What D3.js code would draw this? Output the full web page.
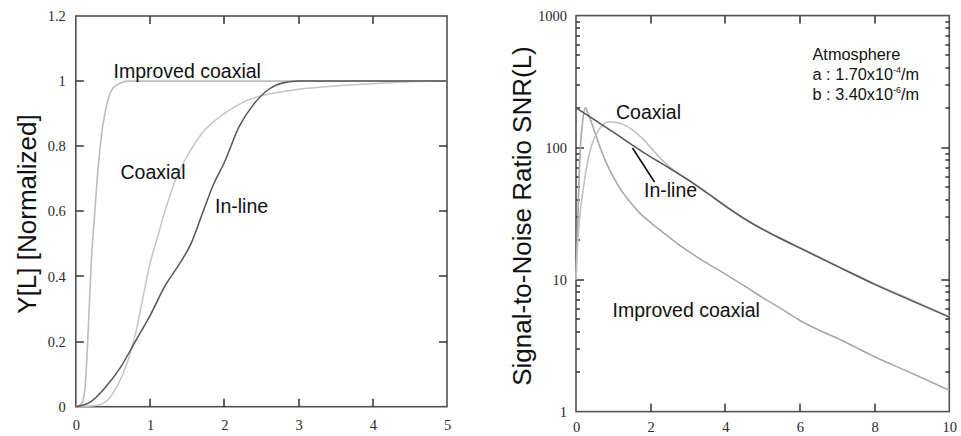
<!DOCTYPE html>
<html><head><meta charset="utf-8">
<script src="https://cdn.jsdelivr.net/npm/d3@7"></script>
<style>
html,body{margin:0;padding:0;background:#fff;}
svg{display:block;}
</style></head>
<body>
<svg id="chart" width="961" height="436"></svg>
<script>
// ---------- Left panel data: Y[L] normalized ----------
const leftXTicks = [0, 1, 2, 3, 4, 5];
const leftYTicks = [0, 0.2, 0.4, 0.6, 0.8, 1, 1.2];
const leftYTickLabels = ["0", "0.2", "0.4", "0.6", "0.8", "1", "1.2"];

const leftImprovedX = [0, 0.08, 0.12, 0.15, 0.18, 0.21, 0.25, 0.3, 0.35, 0.4, 0.45, 0.5, 0.6, 0.7, 5];
const leftImprovedY = [0, 0.01, 0.05, 0.15, 0.3, 0.45, 0.58, 0.73, 0.84, 0.91, 0.955, 0.978, 0.994, 1.0, 1.0];

const leftCoaxialX = [0, 0.25, 0.4, 0.55, 0.7, 0.8, 0.9, 1.0, 1.1, 1.2, 1.35, 1.5, 1.7, 2.0, 2.3, 2.6, 3.0, 3.5, 4.0, 4.5, 5];
const leftCoaxialY = [0, 0.003, 0.015, 0.06, 0.14, 0.22, 0.33, 0.44, 0.52, 0.6, 0.7, 0.77, 0.84, 0.9, 0.94, 0.96, 0.975, 0.985, 0.992, 0.998, 1.0];

const leftInlineX = [0, 0.2, 0.4, 0.6, 0.8, 1.0, 1.2, 1.4, 1.55, 1.7, 1.85, 2.0, 2.2, 2.4, 2.6, 2.8, 3.0, 5];
const leftInlineY = [0, 0.015, 0.06, 0.12, 0.2, 0.28, 0.37, 0.44, 0.5, 0.59, 0.68, 0.75, 0.86, 0.93, 0.975, 0.995, 1.0, 1.0];

// ---------- Right panel data: SNR(L), log scale ----------
const rightXTicks = [0, 2, 4, 6, 8, 10];
const rightYMajor = [1, 10, 100, 1000];

const rightImprovedX = [0, 0.05, 0.1, 0.18, 0.25, 0.33, 0.45, 0.62, 0.8, 1.0, 1.2, 1.44, 1.7, 2.0, 2.4, 2.8, 3.3, 4.0, 4.5, 5, 5.5, 6, 6.5, 7, 8, 9, 10];
const rightImprovedY = [10, 30, 80, 160, 200, 180, 145, 105, 78, 60, 48, 39, 32, 27, 22, 18, 14.5, 11, 9, 7.3, 6, 4.9, 4.15, 3.6, 2.6, 1.95, 1.45];

const rightCoaxialX = [0, 0.05, 0.1, 0.2, 0.3, 0.4, 0.6, 0.9, 1.2, 1.5, 1.8, 2.1, 2.4, 2.7, 3, 3.5, 4, 4.5, 5, 5.5, 6, 7, 8, 9, 10];
const rightCoaxialY = [10, 20, 30, 50, 75, 100, 135, 157, 152, 137, 116, 93, 76, 65, 57.5, 46, 36.4, 29.3, 24.2, 20.5, 17.5, 12.7, 9.3, 7.0, 5.25];

const rightInlineX = [0, 0.5, 1, 1.5, 2, 2.5, 3, 3.5, 4, 4.5, 5, 5.5, 6, 7, 8, 9, 10];
const rightInlineY = [200, 162, 131, 105, 85, 70, 57, 45.5, 36, 29, 24, 20.3, 17.3, 12.6, 9.2, 6.9, 5.2];

// ---------- drawing ----------
const svg = d3.select("#chart");
const frameColor = "#505050";
const tickColor = "#333";
const tickFont = 14.5;
const serif = "'Liberation Serif','Times New Roman',serif";
const labelFont = "'Liberation Sans', Arial, Helvetica, sans-serif";

function zip(xs, ys){ return xs.map((x,i)=>[x, ys[i]]); }

const lx = d3.scaleLinear().domain([0,5]).range([75.8, 447]);
const ly = d3.scaleLinear().domain([0,1.2]).range([406.7, 16]);
const rx = d3.scaleLinear().domain([0,10]).range([576, 949.3]);
const ry = d3.scaleLog().domain([1,1000]).range([411.6, 15.6]);

function styleAxis(a){
  a.select(".domain").remove();
  a.selectAll(".tick line").remove();
  a.selectAll(".tick text").attr("font-size",tickFont).attr("font-family",serif).attr("fill","#2a2a2a");
  return a;
}
function frame(g, x, y, w, h){
  g.append("rect").attr("x",x).attr("y",y).attr("width",w).attr("height",h)
    .attr("fill","none").attr("stroke",frameColor).attr("stroke-width",1.6);
}
// inward ticks as thin filled rectangles, positioned by the scales
function tickRect(g, x, y, w, h){
  g.append("rect").attr("x",x).attr("y",y).attr("width",w).attr("height",h).attr("fill",tickColor);
}
function xTicksInward(g, xs, ys, vals, len){
  const r = ys.range(), y0 = r[0], y1 = r[1];
  vals.forEach(v=>{
    const x = Math.round(xs(v));
    tickRect(g, x-0.75, y0-len, 1.5, len);
    tickRect(g, x-0.75, y1, 1.5, len);
  });
}
function yTicksInward(g, xs, ys, vals, len){
  const r = xs.range(), x0 = r[0], x1 = r[1];
  vals.forEach(v=>{
    const y = Math.round(ys(v));
    tickRect(g, x0, y-0.75, len, 1.5);
    tickRect(g, x1-len, y-0.75, len, 1.5);
  });
}

// ----- Left panel -----
const gL = svg.append("g");
styleAxis(gL.append("g").attr("transform",`translate(0,${ly(0)})`)
  .call(d3.axisBottom(lx).tickValues(leftXTicks).tickFormat(d3.format("d")).tickSize(0).tickPadding(13)));
styleAxis(gL.append("g").attr("transform",`translate(${lx(0)},0)`)
  .call(d3.axisLeft(ly).tickValues(leftYTicks).tickFormat((d,i)=>leftYTickLabels[i]).tickSize(0).tickPadding(10)));
frame(gL, lx(0), ly(1.2), lx(5)-lx(0), ly(0)-ly(1.2));
const gLt = gL.append("g");
xTicksInward(gLt, lx, ly, leftXTicks.slice(1,-1), 8);
yTicksInward(gLt, lx, ly, leftYTicks.slice(1,-1), 8);

const lineL = d3.line().x(d=>lx(d[0])).y(d=>ly(d[1])).curve(d3.curveMonotoneX);
gL.append("path").datum(zip(leftImprovedX,leftImprovedY)).attr("d",lineL)
  .attr("fill","none").attr("stroke","#bdbdbd").attr("stroke-width",1.6);
gL.append("path").datum(zip(leftCoaxialX,leftCoaxialY)).attr("d",lineL)
  .attr("fill","none").attr("stroke","#c4c4c4").attr("stroke-width",1.5);
gL.append("path").datum(zip(leftInlineX,leftInlineY)).attr("d",lineL)
  .attr("fill","none").attr("stroke","#555").attr("stroke-width",1.5);

function label(g, x, y, t, size){
  return g.append("text").attr("x",x).attr("y",y).text(t)
    .attr("font-family",labelFont).attr("font-size",size||19.5).attr("fill","#111");
}
label(gL, 113.5, 77.5, "Improved coaxial");
label(gL, 120.5, 179, "Coaxial");
label(gL, 215, 212.5, "In-line");

gL.append("text").attr("transform","translate(36,214) rotate(-90)")
  .attr("text-anchor","middle").attr("font-family",labelFont).attr("font-size",26).attr("fill","#111")
  .text("Y[L] [Normalized]");

// ----- Right panel -----
const gR = svg.append("g");
const minorVals = [];
for (let e=0; e<3; e++){ for (let k=2;k<=9;k++) minorVals.push(k*Math.pow(10,e)); }

styleAxis(gR.append("g").attr("transform",`translate(0,${ry(1)})`)
  .call(d3.axisBottom(rx).tickValues(rightXTicks).tickFormat(d3.format("d")).tickSize(0).tickPadding(10.5)));
styleAxis(gR.append("g").attr("transform",`translate(${rx(0)},0)`)
  .call(d3.axisLeft(ry).tickValues(rightYMajor).tickFormat(d3.format("d")).tickSize(0).tickPadding(9)));
frame(gR, rx(0), ry(1000), rx(10)-rx(0), ry(1)-ry(1000));
const gRt = gR.append("g");
xTicksInward(gRt, rx, ry, rightXTicks.slice(1,-1), 8);
yTicksInward(gRt, rx, ry, rightYMajor.slice(1,-1), 8);
yTicksInward(gRt, rx, ry, minorVals, 4);

const lineR = d3.line().x(d=>rx(d[0])).y(d=>ry(d[1])).curve(d3.curveMonotoneX);
gR.append("path").datum(zip(rightImprovedX,rightImprovedY)).attr("d",lineR)
  .attr("fill","none").attr("stroke","#a8a8a8").attr("stroke-width",1.6);
gR.append("path").datum(zip(rightCoaxialX,rightCoaxialY)).attr("d",lineR)
  .attr("fill","none").attr("stroke","#c0c0c0").attr("stroke-width",1.6);
gR.append("path").datum(zip(rightInlineX,rightInlineY)).attr("d",lineR)
  .attr("fill","none").attr("stroke","#555").attr("stroke-width",1.5);

label(gR, 616, 118.5, "Coaxial");
label(gR, 644, 197, "In-line");
label(gR, 612.5, 317, "Improved coaxial");
gR.append("line").attr("x1",632.5).attr("y1",148).attr("x2",654.5).attr("y2",182)
  .attr("stroke","#111").attr("stroke-width",1.6);

const annLines = [["Atmosphere", null, null], ["a : 1.70x10", "-4", "/m"], ["b : 3.40x10", "-6", "/m"]];
annLines.forEach((ln,i)=>{
  const t = gR.append("text").attr("x",812.5).attr("y",60 + i*19.8)
    .attr("font-family",labelFont).attr("font-size",16.3).attr("fill","#111");
  t.append("tspan").text(ln[0]);
  if (ln[1]) {
    t.append("tspan").attr("dy",-7).attr("font-size",9).text(ln[1]);
    t.append("tspan").attr("dy",7).text(ln[2]);
  }
});

gR.append("text").attr("transform","translate(531,216) rotate(-90)")
  .attr("text-anchor","middle").attr("font-family",labelFont).attr("font-size",26).attr("fill","#111")
  .text("Signal-to-Noise Ratio SNR(L)");
</script>
</body></html>
